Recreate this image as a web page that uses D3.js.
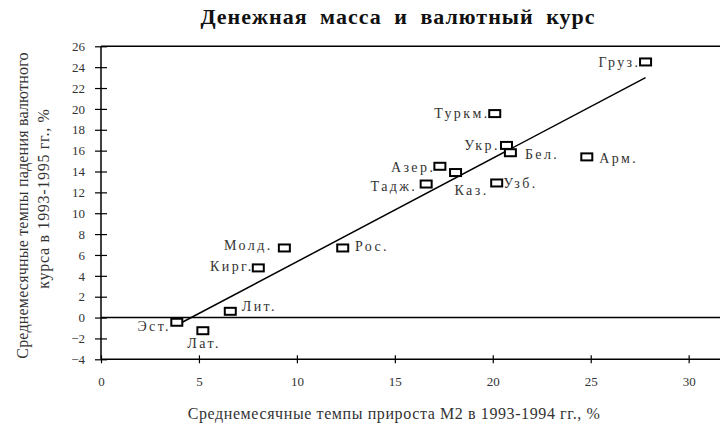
<!DOCTYPE html>
<html>
<head>
<meta charset="utf-8">
<script src="https://cdn.jsdelivr.net/npm/d3@7"></script>
<style>
  body { margin: 0; background: #fff; }
  svg { display: block; }
</style>
</head>
<body>
<div id="chart"></div>
<script>
// ── Data ──
var countries = ['Эст.', 'Лат.', 'Лит.', 'Кирг.', 'Молд.', 'Рос.', 'Тадж.', 'Азер.', 'Каз.',
  'Туркм.', 'Узб.', 'Укр.', 'Бел.', 'Арм.', 'Груз.'];
var m2Growth = [3.87, 5.2, 6.6, 8.03, 9.36, 12.34, 16.6, 17.3, 18.1, 20.1, 20.2, 20.7, 20.9, 24.8, 27.8];
var fxDecline = [-0.45, -1.26, 0.6, 4.76, 6.67, 6.67, 12.8, 14.5, 13.9, 19.55, 12.9, 16.5, 15.8, 15.4, 24.5];
var trendX = [4.1, 27.8];
var trendY = [-0.5, 23.0];
var yTicks = [-4, -2, 0, 2, 4, 6, 8, 10, 12, 14, 16, 18, 20, 22, 24, 26];
var xTicks = [0, 5, 10, 15, 20, 25, 30];

// ── Label placement (layout only): side, gap from square, baseline shift ──
var labelLayout = {
  'Эст.': ['left', 2.7, 8.4], 'Лат.': ['below', 0, 17.3], 'Лит.': ['right', 6, 0],
  'Кирг.': ['left', 1.6, 3.3], 'Молд.': ['left', 8.6, 2], 'Рос.': ['right', 6.7, 2.7],
  'Тадж.': ['left', 5.8, 7.4], 'Азер.': ['left', 1.5, 5.4], 'Каз.': ['under', -1, 22.3],
  'Туркм.': ['left', 2, 4.6], 'Узб.': ['right', 1, 5.3], 'Укр.': ['left', 3.5, 4.3],
  'Бел.': ['right', 9, 6.3], 'Арм.': ['right', 7, 6], 'Груз.': ['left', 2, 5.5]
};

var W = 720, H = 427;
var SERIF = '"Liberation Serif", "DejaVu Serif", serif';
var TEXT = '#333';
var SQ_W = 11, SQ_H = 7;
var LABEL_LS = 2.4;

var svg = d3.select('#chart').append('svg').attr('width', W).attr('height', H);

var x = d3.scaleLinear().domain([0, 31.6]).range([101, 720]);
var y = d3.scaleLinear().domain([-4, 26]).range([359.3, 46.3]);

// title
svg.append('text')
  .attr('x', 398).attr('y', 24)
  .attr('text-anchor', 'middle')
  .attr('font-family', SERIF).attr('font-weight', 'bold').attr('font-size', 22)
  .attr('word-spacing', 6).attr('letter-spacing', 1)
  .attr('fill', '#111')
  .text('Денежная масса и валютный курс');

// frame top edge
svg.append('line').attr('x1', x(0)).attr('x2', W).attr('y1', y(26)).attr('y2', y(26))
  .attr('stroke', '#000').attr('stroke-width', 1.5);

// y axis
var yAxis = svg.append('g')
  .attr('transform', 'translate(' + x(0) + ',0)')
  .call(d3.axisLeft(y).tickValues(yTicks).tickSize(6).tickPadding(10));
yAxis.selectAll('.tick line').attr('x1', -6).attr('x2', 6);
yAxis.select('.domain').remove();
svg.append('line').attr('x1', x(0)).attr('x2', x(0)).attr('y1', y(26)).attr('y2', y(-4))
  .attr('stroke', '#000').attr('stroke-width', 1.5);

// x axis
var xAxis = svg.append('g')
  .attr('transform', 'translate(0,' + y(-4) + ')')
  .call(d3.axisBottom(x).tickValues(xTicks).tickSize(4).tickPadding(13));
xAxis.selectAll('.tick line').attr('y1', -4).attr('y2', 4);
xAxis.select('.domain').remove();
svg.append('line').attr('x1', x(0)).attr('x2', W).attr('y1', y(-4)).attr('y2', y(-4))
  .attr('stroke', '#000').attr('stroke-width', 1.5);

[yAxis, xAxis].forEach(function (ax) {
  ax.selectAll('.tick line').attr('stroke', '#000').attr('stroke-width', 1.2);
  ax.selectAll('.tick text')
    .attr('font-family', SERIF).attr('font-size', 13).attr('fill', TEXT);
});

// zero line
svg.append('line').attr('x1', x(0)).attr('x2', W).attr('y1', y(0)).attr('y2', y(0))
  .attr('stroke', '#000').attr('stroke-width', 1.5);

// trend line
svg.append('line')
  .attr('x1', x(trendX[0])).attr('y1', y(trendY[0]))
  .attr('x2', x(trendX[1])).attr('y2', y(trendY[1]))
  .attr('stroke', '#000').attr('stroke-width', 1.5);

// axis titles
svg.append('text')
  .attr('x', 394).attr('y', 419)
  .attr('text-anchor', 'middle')
  .attr('font-family', SERIF).attr('font-size', 16).attr('letter-spacing', 0.6)
  .attr('fill', TEXT)
  .text('Среднемесячные темпы прироста М2 в 1993-1994 гг., %');

svg.append('text')
  .attr('transform', 'translate(27.5,205.5) rotate(-90)')
  .attr('text-anchor', 'middle')
  .attr('font-family', SERIF).attr('font-size', 16).attr('letter-spacing', 0.2)
  .attr('fill', TEXT)
  .text('Среднемесячные темпы падения валютного');

svg.append('text')
  .attr('transform', 'translate(48.5,198.5) rotate(-90)')
  .attr('text-anchor', 'middle')
  .attr('font-family', SERIF).attr('font-size', 16).attr('letter-spacing', 0.7)
  .attr('fill', TEXT)
  .text('курса в 1993-1995 гг., %');

// points
var pts = countries.map(function (c, i) { return { name: c, mx: m2Growth[i], fy: fxDecline[i] }; });

svg.selectAll('.pt')
  .data(pts)
  .join('rect')
  .attr('class', 'pt')
  .attr('x', function (d) { return x(d.mx) - SQ_W / 2; })
  .attr('y', function (d) { return y(d.fy) - SQ_H / 2; })
  .attr('width', SQ_W).attr('height', SQ_H)
  .attr('fill', '#fff').attr('stroke', '#000').attr('stroke-width', 2);

// labels
function labelX(d) {
  var l = labelLayout[d.name];
  var cx = x(d.mx);
  if (l[0] === 'left') return cx - SQ_W / 2 - l[1] + LABEL_LS;
  if (l[0] === 'right') return cx + SQ_W / 2 + l[1];
  if (l[0] === 'under') return cx + l[1];
  return cx + LABEL_LS / 2;
}
function labelAnchor(d) {
  var side = labelLayout[d.name][0];
  if (side === 'left') return 'end';
  if (side === 'below') return 'middle';
  return 'start';
}

svg.selectAll('.lbl')
  .data(pts)
  .join('text')
  .attr('class', 'lbl')
  .attr('x', labelX)
  .attr('y', function (d) { return y(d.fy) + labelLayout[d.name][2]; })
  .attr('text-anchor', labelAnchor)
  .attr('font-family', SERIF).attr('font-size', 14).attr('letter-spacing', LABEL_LS)
  .attr('fill', TEXT)
  .text(function (d) { return d.name; });
</script>
</body>
</html>
